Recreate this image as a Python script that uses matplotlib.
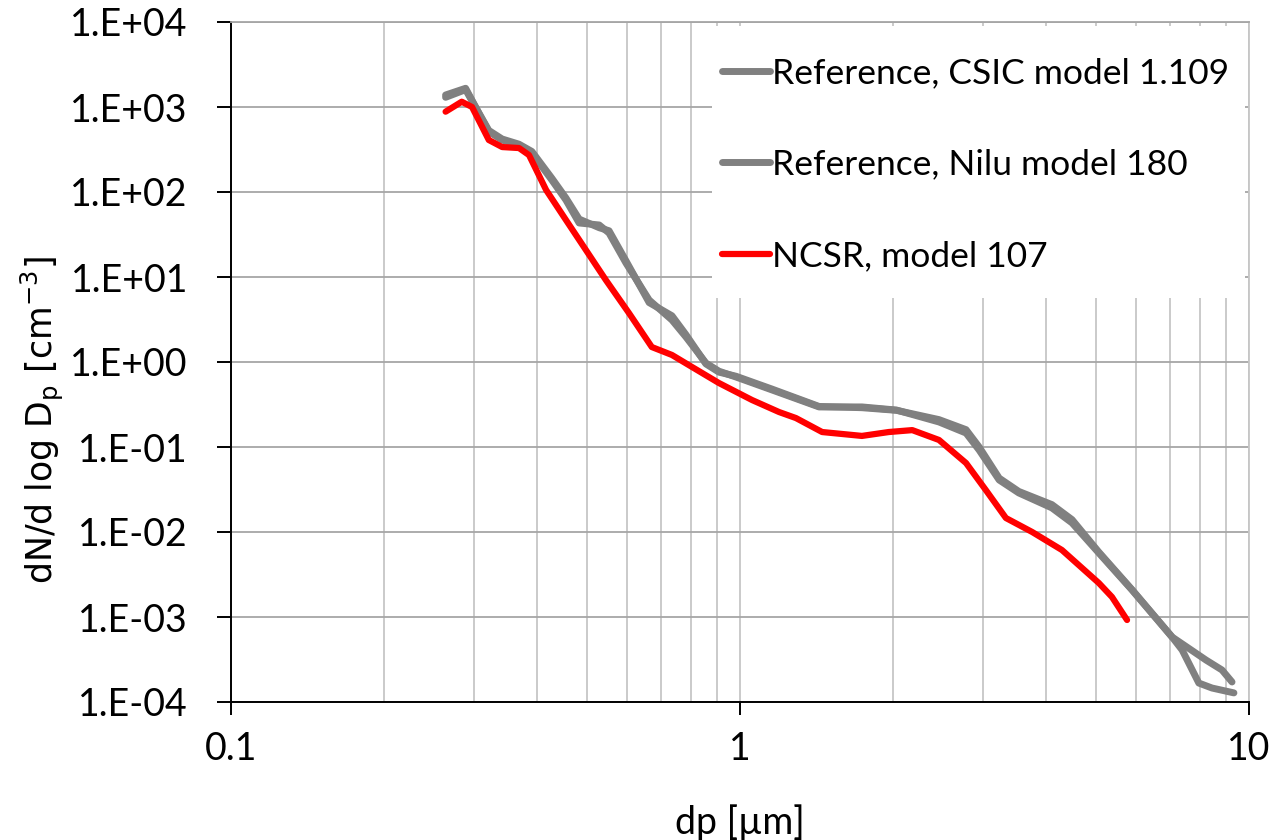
import numpy as np
import matplotlib
matplotlib.use("Agg")
import matplotlib.pyplot as plt
from matplotlib.patches import Rectangle

plt.rcParams['font.family'] = ['Lato', 'DejaVu Sans']
plt.rcParams['mathtext.fontset'] = 'dejavusans'

# dados (dp em um, dN/dlogDp em cm-3)
x_csic = [0.264, 0.289, 0.321, 0.341, 0.368, 0.390, 0.427, 0.455, 0.483, 0.529, 0.553, 0.597,
          0.663, 0.735, 0.783, 0.857, 0.909, 0.982, 1.156, 1.43, 1.736, 2.03, 2.46, 2.78, 2.95, 3.23,
          3.53, 4.10, 4.49, 5.07, 5.89, 7.06, 7.39, 7.97, 8.46, 9.34]
y_csic = [1384, 1660, 512, 409, 357, 288, 138, 80.5, 43.2, 40.9, 32.9, 14.6,
          5.36, 3.12, 1.97, 0.973, 0.78, 0.666, 0.469, 0.296, 0.296, 0.272, 0.197, 0.146, 0.092, 0.0409,
          0.0288, 0.0192, 0.0128, 0.00566, 0.00208, 0.000582, 0.000409, 0.000167, 0.000146, 0.000128]

x_nilu = [0.264, 0.289, 0.321, 0.341, 0.368, 0.390, 0.427, 0.455, 0.483, 0.529, 0.553, 0.597,
          0.663, 0.735, 0.783, 0.857, 0.909, 0.982, 1.156, 1.43, 1.736, 2.03, 2.46, 2.78, 2.95, 3.23,
          3.53, 4.10, 4.49, 5.07, 5.89, 7.06, 8.23, 8.85, 9.26]
y_nilu = [1300, 1600, 530, 420, 365, 300, 145, 85, 48, 38, 35, 15.5,
          5.0, 3.5, 2.1, 0.95, 0.76, 0.68, 0.48, 0.30, 0.29, 0.27, 0.21, 0.16, 0.10, 0.043,
          0.030, 0.021, 0.014, 0.0058, 0.0021, 0.000582, 0.000312, 0.000238, 0.000172]

x_ncsr = [0.264, 0.284, 0.2975, 0.321, 0.341, 0.368, 0.385, 0.416, 0.455, 0.498, 0.545, 0.605,
          0.671, 0.735, 0.805, 0.909, 1.056, 1.193, 1.288, 1.45, 1.736, 1.96, 2.18, 2.46, 2.78,
          3.04, 3.33, 3.75, 4.29, 5.07, 5.38, 5.76]
y_ncsr = [881, 1154, 1000, 409, 338, 329, 272, 105.6, 46.9, 20.8, 9.22, 3.77,
          1.50, 1.21, 0.873, 0.566, 0.357, 0.258, 0.219, 0.150, 0.135, 0.150, 0.158, 0.121, 0.0648,
          0.0312, 0.0146, 0.0100, 0.00614, 0.00251, 0.00172, 0.000922]

labels = ["Reference, CSIC model 1.109", "Reference, Nilu model 180", "NCSR, model 107"]
yticks = [1e-4, 1e-3, 1e-2, 1e-1, 1e0, 1e1, 1e2, 1e3, 1e4]
ytick_labels = ["1.E-04", "1.E-03", "1.E-02", "1.E-01", "1.E+00", "1.E+01", "1.E+02", "1.E+03", "1.E+04"]
xticks = [0.1, 1, 10]
xtick_labels = ["0.1", "1", "10"]

fig = plt.figure(figsize=(12.78, 8.4), dpi=100)
ax = fig.add_axes([231/1278, 1-702/840, (1249-231)/1278, (702-22)/840])

estilo = dict(solid_capstyle='round', solid_joinstyle='round')
ax.plot(x_csic, y_csic, color='#808080', lw=5, label=labels[0], **estilo)
ax.plot(x_nilu, y_nilu, color='#808080', lw=5, label=labels[1], **estilo)
ax.plot(x_ncsr, y_ncsr, color='#ff0000', lw=4.5, label=labels[2], **estilo)

ax.set_xscale('log')
ax.set_yscale('log')
ax.set_xlim(0.1, 10)
ax.set_ylim(1e-4, 1e4)

ax.set_yticks(yticks)
ax.set_yticklabels(ytick_labels)
ax.set_xticks(xticks)
ax.set_xticklabels(xtick_labels)
ax.minorticks_off()
ax.set_xticks([m*d for d in (0.1, 1) for m in range(2, 10)], minor=True)
ax.tick_params(axis='x', which='minor', length=0)
ax.tick_params(axis='both', which='major', direction='out', width=1.4, color='black', labelsize=27)
ax.tick_params(axis='y', length=10, pad=21)
ax.tick_params(axis='x', length=9.5, pad=11.5)

ax.grid(True, axis='y', which='major', color='#a6a6a6', lw=1.3)
ax.grid(True, axis='x', which='both', color='#c6c6c6', lw=1.3)
ax.set_axisbelow(True)

for s in ('left', 'bottom'):
    ax.spines[s].set_color('black')
    ax.spines[s].set_linewidth(1.4)
ax.spines['top'].set_color('#a6a6a6')
ax.spines['top'].set_linewidth(1.3)
ax.spines['right'].set_color('#c6c6c6')
ax.spines['right'].set_linewidth(1.3)

ax.set_xlabel("dp [µm]", fontsize=27)
ax.xaxis.set_label_coords(0.5, -(804-702)/680)
ax.set_ylabel(r"dN/d log D$\mathregular{_p}$ [cm$\mathregular{^{-3}}$]",
              fontsize=25, family=['DejaVu Sans'])
ax.yaxis.set_label_coords((66-231)/1018, (702-420)/680)

# fundo branco da legenda, tapando a grade
ax.add_patch(Rectangle(((712-231)/1018, (702-298)/680), (1245-712)/1018, (298-26)/680,
                       transform=ax.transAxes, facecolor='white', edgecolor='none', zorder=1.5))

leg = ax.legend(loc='upper left', bbox_to_anchor=((722-231)/1018, (702-57)/680), borderaxespad=0,
                fontsize=25.5, handlelength=1.35, handletextpad=0.05, labelspacing=1.68,
                borderpad=0, frameon=False)

fig.savefig("out.png", dpi=100)
